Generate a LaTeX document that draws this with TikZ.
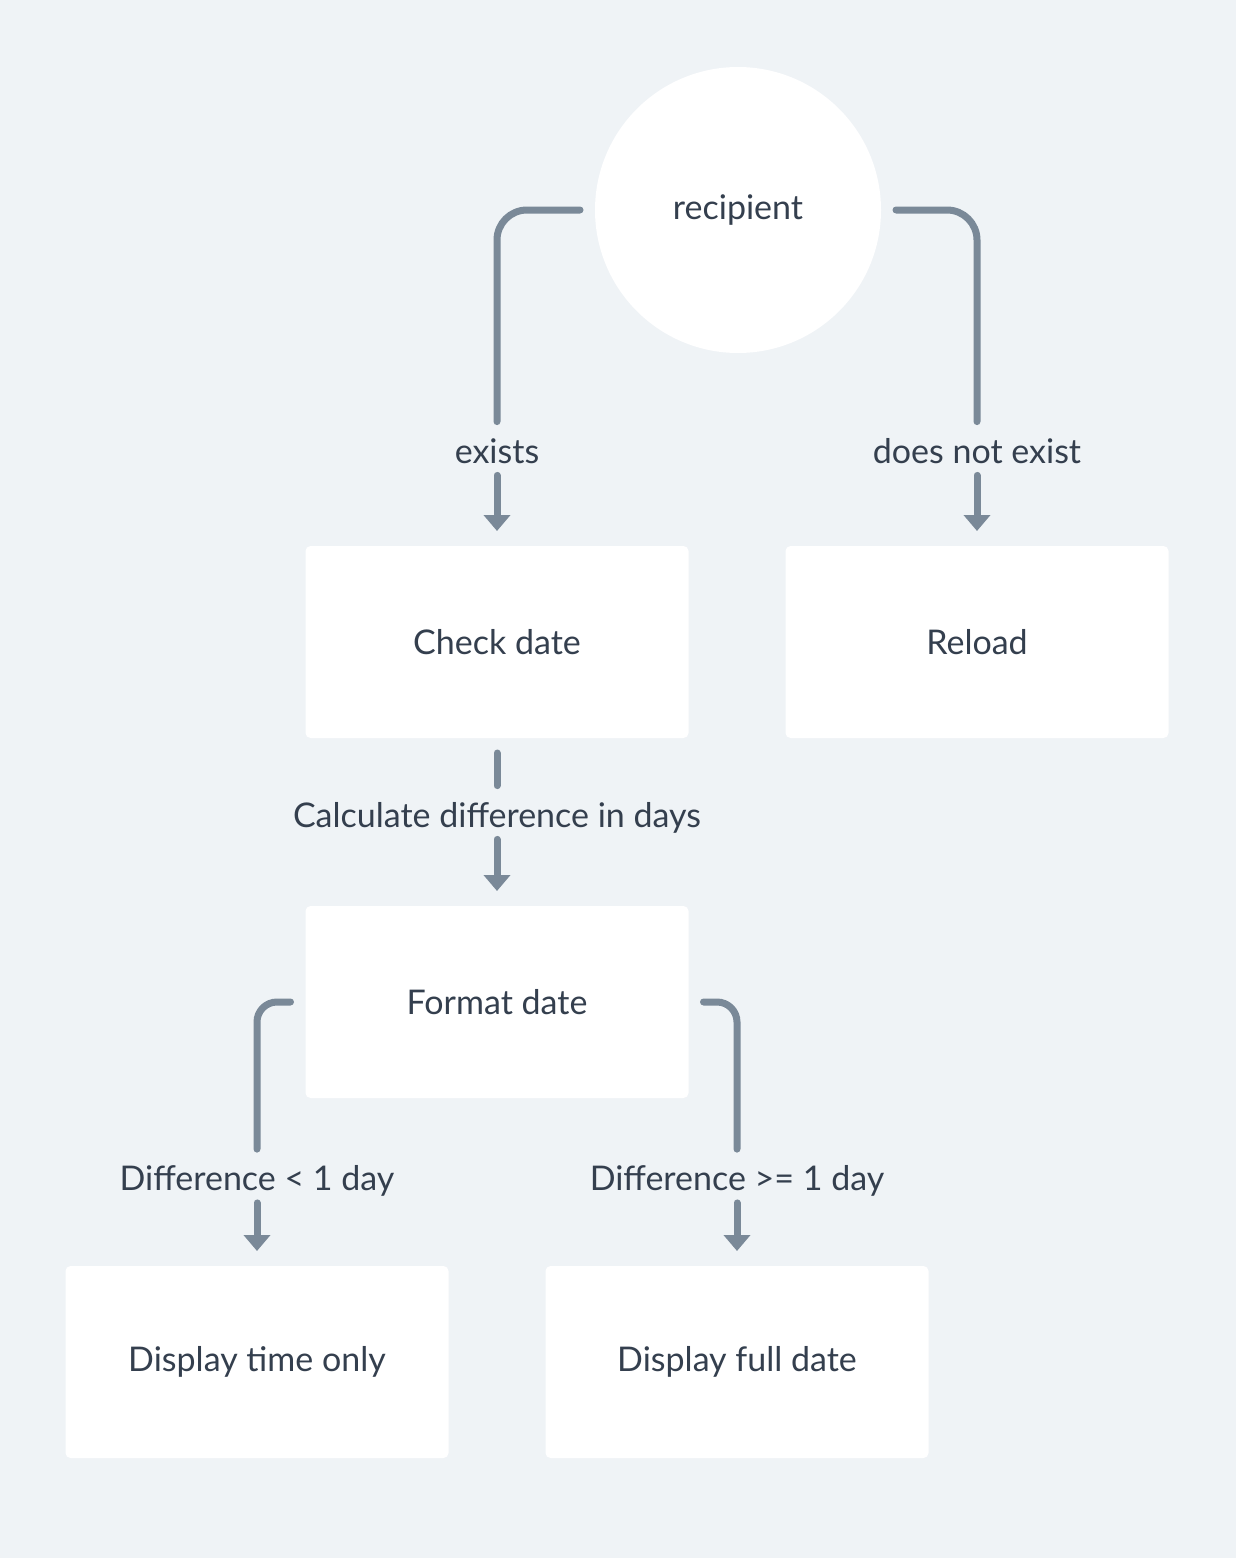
\documentclass[tikz,border=0pt]{standalone}
\usepackage{fontspec}
\setmainfont{Lato}
\usetikzlibrary{arrows.meta}
\definecolor{bggray}{RGB}{239,243,246}
\definecolor{linegray}{RGB}{122,137,152}
\definecolor{textgray}{RGB}{52,63,78}

\begin{document}
\begin{tikzpicture}[x=0.5pt,y=-0.5pt]
    \tikzstyle{arrow} = [line width=3.5pt,linegray,line cap=round,-{Triangle[width=13pt,length=8pt]}]
    \tikzstyle{branch} = [line width=3.5pt,linegray,line cap=round]
    \tikzstyle{box} = [fill=white, rounded corners=2.5pt, minimum width=191.5pt, minimum height=96pt, outer sep=7.5pt, text=textgray, font=\fontsize{17}{20}\selectfont]
    \tikzstyle{tag} = [inner xsep=0pt, inner ysep=6pt, text height=14.5pt, text depth=0pt, text=textgray, font=\fontsize{17}{20}\selectfont]

    % Background
    \fill [bggray] (0,0) rectangle (1236,1558);

    % Top circle
    \node [box, circle, rounded corners=0pt, minimum size=143pt] (Recipient) at (738,210) {recipient};

    % Left branch of the circle
    \node [tag] (Exists) at (497,448.5) {exists};
    \draw [branch, rounded corners=15pt] (Recipient.west) -| (Exists.north);
    \node [box] (CheckDate) at (497,642) {Check date};
    \draw [arrow] (Exists) -- (CheckDate);

    % Right branch of the circle
    \node [tag] (NotExists) at (977,448.5) {does not exist};
    \draw [branch, rounded corners=15pt] (Recipient.east) -| (NotExists.north);
    \node [box] (Reload) at (977,642) {Reload};
    \draw [arrow] (NotExists) -- (Reload);

    % Middle step
    \node [tag] (CalcDiff) at (497,812.5) {Calculate difference in days};
    \draw [branch] (CheckDate) -- (CalcDiff);
    \node [box] (FormatDate) at (497,1002) {Format date};
    \draw [arrow] (CalcDiff) -- (FormatDate);

    % Lower left branch
    \node [tag] (LessDay) at (257,1176) {Difference < 1 day};
    \draw [branch, rounded corners=10pt] (FormatDate.west) -| (LessDay.north);
    \node [box] (TimeOnly) at (257,1362) {Display time only};
    \draw [arrow] (LessDay) -- (TimeOnly);

    % Lower right branch
    \node [tag] (MoreDay) at (737,1176) {Difference >= 1 day};
    \draw [branch, rounded corners=10pt] (FormatDate.east) -| (MoreDay.north);
    \node [box] (FullDate) at (737,1362) {Display full date};
    \draw [arrow] (MoreDay) -- (FullDate);
\end{tikzpicture}
\end{document}
